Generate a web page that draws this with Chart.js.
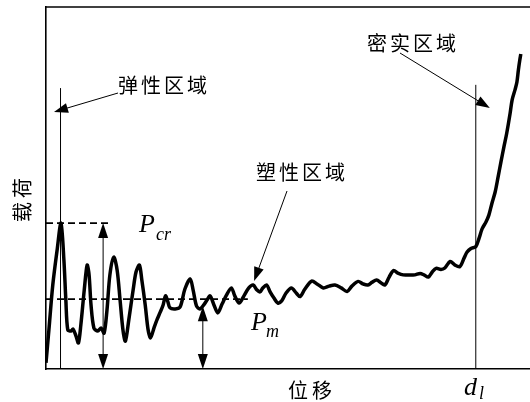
<!DOCTYPE html>
<html>
<head>
<meta charset="utf-8">
<script src="https://cdn.jsdelivr.net/npm/chart.js@4.4.1/dist/chart.umd.min.js"></script>
<style>
  html, body { margin: 0; padding: 0; background: #fff; overflow: hidden; }
  canvas { display: block; }
</style>
</head>
<body>
<canvas id="c" width="530" height="402"></canvas>
<script>
// Load–displacement curve (relative units): displacement on x, load on y
const disp = [0, 0.6, 1.4, 2.3, 3.1, 3.7, 4.1, 4.5, 5.2, 5.6, 6.2, 6.7, 7.2, 7.9, 8.5, 8.9, 9.3, 9.9, 10.7, 11.4,
  12.0, 12.6, 13.2, 14.0, 14.7, 15.3, 15.9, 16.4, 17.1, 18.0, 18.6, 19.3, 19.8, 20.5, 21.1, 21.6, 22.3, 22.9, 23.6, 24.2,
  24.7, 25.2, 25.6, 26.7, 27.7, 28.7, 29.8, 30.4, 31.1, 31.8, 32.6, 33.3, 33.9, 34.7, 35.5, 36.4, 37.2, 38.3, 39.0, 39.9,
  40.9, 41.9, 42.8, 43.6, 44.2, 44.8, 45.6, 46.3, 47.1, 47.9, 48.7, 49.6, 50.7, 51.7, 52.5, 53.5, 54.9, 56.0, 57.3, 58.5,
  59.7, 61.0, 62.2, 63.2, 64.5, 65.5, 66.5, 67.4, 68.3, 69.2, 70.0, 70.9, 71.8, 72.7, 73.8, 75.2, 76.2, 77.3, 78.1, 79.0,
  79.8, 80.6, 81.6, 82.4, 83.5, 84.5, 85.5, 86.4, 87.0, 87.8, 88.8, 89.5, 90.1, 90.9, 91.5, 92.1, 92.8, 93.4, 94.0, 94.6,
  95.2, 95.9, 96.3, 96.9, 97.3, 97.6, 97.9, 98.1];
const load = [1.7, 10.8, 23.2, 32.9, 40.3, 30.1, 19.1, 10.8, 10.5, 11.0, 9.1, 7.2, 12.2, 21.8, 28.7, 26.0, 17.7, 11.3, 10.5, 11.3,
  9.9, 16.3, 26.0, 30.9, 27.3, 19.1, 10.8, 7.7, 13.5, 21.8, 26.8, 28.7, 24.6, 17.7, 10.8, 8.6, 11.3, 13.5, 15.7, 17.7,
  20.2, 18.5, 16.9, 16.6, 17.1, 22.1, 24.9, 21.8, 17.4, 16.6, 17.7, 19.1, 20.2, 17.7, 15.5, 18.0, 20.2, 22.4, 20.2, 18.2,
  20.2, 22.4, 23.2, 21.8, 21.3, 22.4, 23.2, 21.3, 19.6, 18.2, 18.8, 21.0, 22.4, 21.0, 20.0, 22.1, 24.3, 23.5, 22.4, 22.9,
  23.2, 22.4, 21.4, 22.9, 24.2, 23.5, 23.2, 24.0, 24.6, 23.8, 23.2, 25.4, 27.2, 26.5, 26.0, 26.0, 26.0, 26.4, 26.0, 25.4,
  26.8, 27.8, 27.5, 27.9, 29.7, 28.7, 28.3, 30.7, 32.3, 33.3, 33.8, 36.2, 38.7, 40.6, 42.5, 45.6, 48.9, 53.0, 57.2, 61.3,
  65.2, 70.7, 74.3, 77.1, 79.3, 82.6, 85.4, 87.0];

// Characteristic values
const criticalLoad = 40.3;     // P_cr, first peak
const meanLoad = 19.3;         // P_m, plateau level
const plateauTrough = 17.3;    // local trough where the P_m arrow ends
const elasticLimit = 3.0;      // end of elastic zone
const compactionStart = 88.8;  // d_l, onset of densification
const pcrArrowAt = 11.8;
const pmArrowAt = 32.4;

// Region labels and their arrow tips (data coords)
const regionNames = ['弹性区域', '塑性区域', '密实区域'];
const regionTips = [[1.65, 71.0], [43.0, 24.3], [91.7, 72.1]];

const points = disp.map((d, i) => ({ x: d, y: load[i] }));

function arrowHead(ctx, x1, y1, x2, y2, len, half) {
  const ang = Math.atan2(y2 - y1, x2 - x1);
  ctx.beginPath();
  ctx.moveTo(x2, y2);
  ctx.lineTo(x2 - len * Math.cos(ang) + half * Math.sin(ang), y2 - len * Math.sin(ang) - half * Math.cos(ang));
  ctx.lineTo(x2 - len * Math.cos(ang) - half * Math.sin(ang), y2 - len * Math.sin(ang) + half * Math.cos(ang));
  ctx.closePath();
  ctx.fill();
}
function arrow(ctx, x1, y1, x2, y2, len, half) {
  const ang = Math.atan2(y2 - y1, x2 - x1);
  ctx.beginPath();
  ctx.moveTo(x1, y1);
  ctx.lineTo(x2 - len * 0.8 * Math.cos(ang), y2 - len * 0.8 * Math.sin(ang));
  ctx.stroke();
  arrowHead(ctx, x1, y1, x2, y2, len, half);
}
function spacedText(ctx, str, x, y, step) {
  for (let i = 0; i < str.length; i++) ctx.fillText(str[i], x + i * step, y);
}

const annotations = {
  id: 'annotations',
  afterDatasetsDraw(chart) {
    const { ctx, chartArea: a, scales } = chart;
    const X = v => scales.x.getPixelForValue(v);
    const Y = v => scales.y.getPixelForValue(v);
    ctx.save();
    ctx.strokeStyle = '#000';
    ctx.fillStyle = '#000';

    // top frame line
    ctx.lineWidth = 1.6;
    ctx.beginPath(); ctx.moveTo(a.left, a.top); ctx.lineTo(chart.width, a.top); ctx.stroke();

    // dashed reference levels
    ctx.lineWidth = 1.8;
    ctx.setLineDash([7, 4]);
    ctx.beginPath(); ctx.moveTo(a.left, Y(criticalLoad)); ctx.lineTo(X(13.6), Y(criticalLoad)); ctx.stroke();
    ctx.beginPath(); ctx.moveTo(a.left, Y(meanLoad)); ctx.lineTo(X(41.7), Y(meanLoad)); ctx.stroke();
    ctx.setLineDash([]);

    // zone boundaries
    ctx.lineWidth = 1;
    ctx.beginPath(); ctx.moveTo(X(elasticLimit), Y(0)); ctx.lineTo(X(elasticLimit), Y(77.6)); ctx.stroke();
    ctx.beginPath(); ctx.moveTo(X(compactionStart), Y(0)); ctx.lineTo(X(compactionStart), Y(78.5)); ctx.stroke();

    // double-headed arrows for P_cr and P_m
    const dbl = (xv, top) => {
      const px = X(xv), y0 = Y(0), y1 = Y(top);
      ctx.beginPath(); ctx.moveTo(px, y0 - 10); ctx.lineTo(px, y1 + 10); ctx.stroke();
      arrowHead(ctx, px, y1 + 20, px, y1, 15, 5);
      arrowHead(ctx, px, y0 - 20, px, y0, 15, 5);
    };
    dbl(pcrArrowAt, criticalLoad);
    dbl(pmArrowAt, plateauTrough);

    // region labels with pointer arrows
    const labelPos = [[118, 85], [256, 172], [367, 43]];
    const tails = [[118, 93], [287, 191], [400, 53]];
    ctx.font = '20px "Noto Sans CJK SC"';
    ctx.textBaseline = 'middle';
    ctx.textAlign = 'left';
    regionNames.forEach((n, i) => {
      spacedText(ctx, n, labelPos[i][0], labelPos[i][1], 23);
      arrow(ctx, tails[i][0], tails[i][1], X(regionTips[i][0]), Y(regionTips[i][1]), 14, 5);
    });

    // axis titles
    spacedText(ctx, '位移', 288, 390, 24);
    ctx.save();
    ctx.translate(22, 200);
    ctx.rotate(-Math.PI / 2);
    spacedText(ctx, '载荷', -22, 0, 24);
    ctx.restore();

    // symbols
    ctx.textBaseline = 'alphabetic';
    ctx.font = 'italic 26px "Liberation Serif"';
    ctx.fillText('P', 139, 232);
    ctx.fillText('P', 251, 330);
    ctx.fillText('d', 464, 395);
    ctx.font = 'italic 18px "Liberation Serif"';
    ctx.fillText('cr', 156, 240);
    ctx.fillText('m', 266, 337);
    ctx.fillText('l', 479, 399);
    ctx.restore();
  }
};

new Chart(document.getElementById('c'), {
  type: 'scatter',
  data: {
    datasets: [{
      data: points,
      showLine: true,
      borderColor: '#000',
      borderWidth: 3.5,
      pointRadius: 0,
      tension: 0.3,
      fill: false
    }]
  },
  options: {
    responsive: false,
    animation: false,
    layout: { padding: { left: 46, top: 7, right: 0, bottom: 33 } },
    plugins: { legend: { display: false }, tooltip: { enabled: false } },
    scales: {
      x: {
        type: 'linear', min: 0, max: 100,
        ticks: { display: false },
        grid: { display: false, drawTicks: false },
        border: { display: true, color: '#000', width: 1.6 },
        afterFit: s => { s.height = 0; }
      },
      y: {
        type: 'linear', min: 0, max: 100,
        ticks: { display: false },
        grid: { display: false, drawTicks: false },
        border: { display: true, color: '#000', width: 1.6 },
        afterFit: s => { s.width = 0; }
      }
    }
  },
  plugins: [annotations]
});
</script>
</body>
</html>
